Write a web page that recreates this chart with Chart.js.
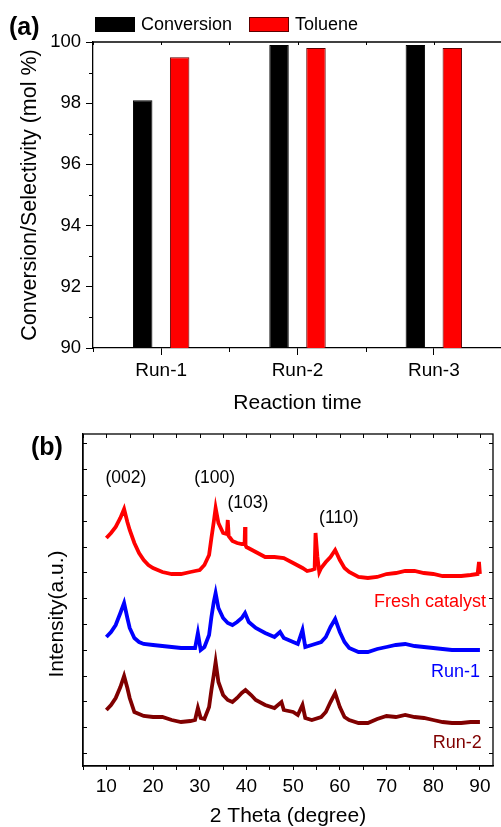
<!DOCTYPE html>
<html>
<head>
<meta charset="utf-8">
<script src="https://cdn.jsdelivr.net/npm/chart.js@4.4.1/dist/chart.umd.min.js"></script>
<style>
  body { margin: 0; background: #fff; width: 501px; height: 827px; overflow: hidden; position: relative; }
  canvas { position: absolute; left: 0; }
  #chartA { top: 0; }
  #chartB { top: 420px; }
</style>
</head>
<body>
<canvas id="chartA" width="502" height="420"></canvas>
<canvas id="chartB" width="501" height="407"></canvas>
<script>
// (a) catalyst reuse
const runs = ['Run-1', 'Run-2', 'Run-3'];
const conversion = [98.1, 99.9, 99.9];
const toluene = [99.5, 99.8, 99.8];
const yTicksA = [90, 92, 94, 96, 98, 100];

// (b) XRD patterns (stacked, a.u.)
const freshAngle = [10,11,12,13,13.8,14.5,15,16,17,18,19,20,22,24,26,28,29,30,31,32,32.5,33,33.4,34,35,35.8,36,36.2,37,38,39,39.6,39.7,39.8,40,42,44,46,48,50,52,53,54,54.6,54.8,55.2,55.6,56,57,58,59,60,61,62,64,66,68,70,72,74,76,78,80,82,84,86,88,89.5,89.8,90];
const freshIntensity = [215,220,226,235,244,231,223,210,200,193,188,185,181,179,179,181,182,183,188,198,215,231,245,230,220,219,233,217,212,210,209,209,226,208,206,201,196,196,195,190,185,182,183,184,220,196,181,185,191,196,203,193,185,181,176,175,176,179,180,182,182,180,179,177,177,177,178,179,191,179];
const runOneAngle = [10,11,12,13,13.8,14.5,15,16,17,18,20,22,24,26,28,29,29.6,30.2,31,32,32.5,33,33.4,34,35,36,37,38,39,39.7,40.5,42,44,46,47.2,48,50,51,52,52.6,54,56,57,58,59,60,61,62,64,66,68,70,72,74,76,78,80,82,84,86,88,90];
const runOneIntensity = [116,121,128,140,150,135,125,115,111,109,108,107,106,105,105,105,120,103,106,118,136,151,160,145,135,130,128,131,135,140,131,125,120,116,121,115,111,109,123,106,108,111,116,126,134,121,111,105,101,101,104,106,108,109,107,106,105,104,103,103,103,103];
const runTwoAngle = [10,11,12,13,13.8,14.5,15,16,17,18,20,22,24,26,28,29,29.6,30.2,31,32,32.5,33,33.4,34,35,36,37,38,39,39.8,41,42,44,46,47.5,48,50,51,52,52.6,54,56,57,58,59,60,61,62,64,66,68,70,72,74,76,78,80,82,84,86,88,90];
const runTwoIntensity = [43,48,55,66,77,65,55,41,39,37,36,36,33,31,32,33,45,35,34,46,63,78,91,71,58,53,51,55,60,63,58,53,48,45,51,43,41,38,48,35,33,36,41,51,60,46,36,33,30,30,34,37,36,38,36,35,33,31,30,30,31,31];
const xTicksB = [5,10,15,20,25,30,35,40,45,50,55,60,65,70,75,80,85,90];
const yTicksB = [0,25.8,51.6,77.4,103.2,129,154.8,180.6,206.4,232.2,258,283.8,309.6];
const peakLabels = ['(002)', '(100)', '(103)', '(110)'];

const FONT = "'Liberation Sans', Arial, sans-serif";
Chart.defaults.font.family = FONT;
Chart.defaults.color = '#000';

const toPoints = (xs, ys) => xs.map((v, i) => ({ x: v, y: ys[i] }));

const frameA = {
  id: 'frameA',
  afterDraw(chart) {
    const { ctx, chartArea: a, scales: { x, y } } = chart;
    ctx.save();
    ctx.strokeStyle = '#000';
    ctx.lineWidth = 1.3;
    ctx.beginPath();
    ctx.moveTo(a.left, a.top);
    ctx.lineTo(a.right, a.top);
    ctx.stroke();

    ctx.lineWidth = 1;
    ctx.beginPath();
    for (let v = 91; v < 100; v += 2) {
      const py = Math.round(y.getPixelForValue(v)) + 0.5;
      ctx.moveTo(a.left - 4, py);
      ctx.lineTo(a.left, py);
    }
    const w = x.getPixelForValue(1) - x.getPixelForValue(0);
    for (let i = 0; i <= runs.length; i++) {
      const px = Math.round(x.getPixelForValue(0) + (i - 0.5) * w) + 0.5;
      ctx.moveTo(px, a.bottom);
      ctx.lineTo(px, a.bottom + 4);
      ctx.moveTo(px, a.top);
      ctx.lineTo(px, a.top + 3);
    }
    runs.forEach((r, i) => {
      const px = Math.round(x.getPixelForValue(i)) + 0.5;
      ctx.moveTo(px, a.top);
      ctx.lineTo(px, a.top + 3);
    });
    ctx.stroke();

    // legend
    const legendX = [95, 249];
    ctx.font = '18px ' + FONT;
    ctx.textBaseline = 'middle';
    ctx.textAlign = 'left';
    chart.data.datasets.forEach((ds, i) => {
      ctx.fillStyle = ds.backgroundColor;
      ctx.fillRect(legendX[i], 17, 40, 15);
      ctx.strokeStyle = ds.borderColor;
      ctx.strokeRect(legendX[i] + 0.5, 17.5, 39, 14);
      ctx.fillStyle = '#000';
      ctx.fillText(ds.label, legendX[i] + 46, 25);
    });

    ctx.font = 'bold 25px ' + FONT;
    ctx.fillText('(a)', 9, 28);
    ctx.restore();
  }
};

new Chart(document.getElementById('chartA'), {
  type: 'bar',
  data: {
    labels: runs,
    datasets: [
      { label: 'Conversion', data: conversion, backgroundColor: '#000000', borderColor: '#000000', borderWidth: 1 },
      { label: 'Toluene', data: toluene, backgroundColor: '#ff0000', borderColor: '#5c0000', borderWidth: 1 }
    ]
  },
  options: {
    responsive: false,
    animation: false,
    layout: { padding: { left: 13, top: 42, right: 0, bottom: 0 } },
    datasets: { bar: { categoryPercentage: 0.542, barPercentage: 0.527 } },
    plugins: { legend: { display: false }, tooltip: { enabled: false } },
    scales: {
      x: {
        grid: { offset: false, drawOnChartArea: false, tickLength: 7, color: '#000' },
        border: { color: '#000', width: 1.3 },
        ticks: { font: { size: 19 }, padding: 4 },
        title: { display: true, text: 'Reaction time', font: { size: 21 }, padding: { top: 0, bottom: 4 } },
        afterFit: s => { s.height = 72; }
      },
      y: {
        min: 90, max: 100,
        afterBuildTicks: s => { s.ticks = yTicksA.map(v => ({ value: v })); },
        grid: { drawOnChartArea: false, tickLength: 7, color: '#000' },
        border: { color: '#000', width: 1.3 },
        ticks: { font: { size: 18.5 }, padding: 5 },
        title: { display: true, text: 'Conversion/Selectivity (mol %)', font: { size: 21.5 }, padding: { top: 4, bottom: 0 } },
        afterFit: s => { s.width = 80; }
      }
    }
  },
  plugins: [frameA]
});

const frameB = {
  id: 'frameB',
  afterDraw(chart) {
    const { ctx, chartArea: a, scales: { x, y } } = chart;
    ctx.save();
    ctx.strokeStyle = '#000';
    ctx.lineWidth = 1.3;
    ctx.strokeRect(a.left, a.top, a.right - a.left, a.bottom - a.top);
    ctx.lineWidth = 1;
    ctx.beginPath();
    x.ticks.forEach(t => {
      const px = Math.round(x.getPixelForValue(t.value)) + 0.5;
      ctx.moveTo(px, a.top);
      ctx.lineTo(px, a.top + 4);
    });
    y.ticks.forEach(t => {
      const py = Math.round(y.getPixelForValue(t.value)) + 0.5;
      ctx.moveTo(a.left, py);
      ctx.lineTo(a.left + 4, py);
      ctx.moveTo(a.right, py);
      ctx.lineTo(a.right - 4, py);
    });
    ctx.stroke();

    ctx.textBaseline = 'middle';
    ctx.font = '17.5px ' + FONT;
    ctx.fillStyle = '#000';
    ctx.textAlign = 'center';
    const peakAt = [[14.2, 275], [33.2, 275], [40.3, 250], [59.8, 235]];
    peakLabels.forEach((t, i) => {
      ctx.fillText(t, x.getPixelForValue(peakAt[i][0]), y.getPixelForValue(peakAt[i][1]));
    });

    ctx.font = '18px ' + FONT;
    ctx.textAlign = 'right';
    const nameAt = [[91.3, 151], [90, 81], [90.4, 10]];
    chart.data.datasets.forEach((ds, i) => {
      ctx.fillStyle = ds.borderColor;
      ctx.fillText(ds.label, x.getPixelForValue(nameAt[i][0]), y.getPixelForValue(nameAt[i][1]));
    });

    // y title sits a little below the axis middle in the original
    ctx.fillStyle = '#000';
    ctx.save();
    ctx.translate(57, 194);
    ctx.rotate(-Math.PI / 2);
    ctx.textAlign = 'center';
    ctx.font = '21px ' + FONT;
    ctx.fillText('Intensity(a.u.)', 0, 0);
    ctx.restore();

    ctx.textAlign = 'left';
    ctx.font = 'bold 25px ' + FONT;
    ctx.fillText('(b)', 31, 28);
    ctx.restore();
  }
};

const lineStyle = { borderWidth: 3.8, pointRadius: 0, tension: 0, fill: false };

new Chart(document.getElementById('chartB'), {
  type: 'line',
  data: {
    datasets: [
      { label: 'Fresh catalyst', data: toPoints(freshAngle, freshIntensity), borderColor: '#ff0000', ...lineStyle },
      { label: 'Run-1', data: toPoints(runOneAngle, runOneIntensity), borderColor: '#0000ff', ...lineStyle },
      { label: 'Run-2', data: toPoints(runTwoAngle, runTwoIntensity), borderColor: '#800000', ...lineStyle }
    ]
  },
  options: {
    responsive: false,
    animation: false,
    layout: { padding: { left: 40, top: 14, right: 8, bottom: 0 } },
    plugins: { legend: { display: false }, tooltip: { enabled: false } },
    scales: {
      x: {
        type: 'linear',
        min: 5, max: 92.8,
        afterBuildTicks: s => { s.ticks = xTicksB.map(v => ({ value: v })); },
        grid: { drawOnChartArea: false, tickLength: 4, color: '#000' },
        border: { color: '#000', width: 1.3 },
        ticks: {
          font: { size: 19 }, padding: 5, autoSkip: false, maxRotation: 0,
          callback: v => (v % 10 === 0 ? v : '')
        },
        title: { display: true, text: '2 Theta (degree)', font: { size: 21, lineHeight: 1 }, padding: 0 },
        afterFit: s => { s.height = 61; }
      },
      y: {
        min: -13, max: 319,
        afterBuildTicks: s => { s.ticks = yTicksB.map(v => ({ value: v })); },
        grid: { display: false },
        border: { color: '#000', width: 1.3 },
        ticks: { display: false },
        title: { display: false },
        afterFit: s => { s.width = 43; }
      }
    }
  },
  plugins: [frameB]
});
</script>
</body>
</html>
